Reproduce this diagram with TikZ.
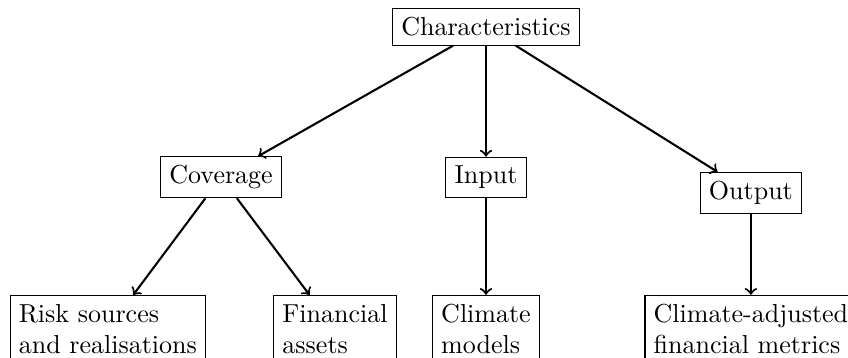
\documentclass[tikz,border=0pt]{standalone}
\usepackage{amsmath}
\usetikzlibrary{positioning}
\tikzset{main node/.style={rectangle,draw,inner sep=3.33pt},
  leaf node/.style={rectangle,draw,align=left,inner sep=3.33pt} }

\begin{document}
\begin{tikzpicture}
\useasboundingbox (-6.568,0.365) rectangle (4.892,-4.473);
\begin{scope}[on grid]

  \node[main node] (1) {Characteristics};
  \node[main node] (2) [below left = 2.03cm and 3.58cm of 1] {Coverage};
  \node[main node] (3) [below = 2.03cm of 1] {Input};
  \node[main node] (4) [below right = 2.24cm and 3.58cm of 1] {Output};
    \node[leaf node] (5) [below left = 2.05cm and 1.53cm of 2] {Risk sources\\and realisations};
    \node[leaf node] (6) [below right = 2.05cm and 1.54cm of 2] {Financial\\assets};
    \node[leaf node] (7) [below = 2.05cm of 3] {Climate\\models};
    \node[leaf node] (8) [below = 1.84cm of 4] {Climate-adjusted\\financial metrics};

    \path[every edge/.style={draw,->,thick}]
    (1) edge (2)
    (1) edge (3)
    (1) edge (4)
    (2) edge (5)
    (2) edge (6)
    (3) edge (7)
    (4) edge (8)
    ;
    \end{scope}
\end{tikzpicture}
\end{document}
